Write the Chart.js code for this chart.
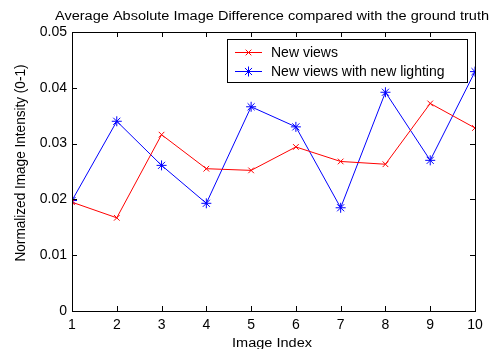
<!DOCTYPE html>
<html>
<head>
<meta charset="utf-8">
<script src="https://cdn.jsdelivr.net/npm/chart.js@4/dist/chart.umd.min.js"></script>
<style>
  html, body { margin: 0; padding: 0; background: #fff; }
  #wrap { width: 495px; height: 349px; position: relative; }
</style>
</head>
<body>
<div id="wrap"><canvas id="grafico"></canvas></div>
<script>
// dados
const indices = [1, 2, 3, 4, 5, 6, 7, 8, 9, 10];
const newViews = [0.0195, 0.0167, 0.0316, 0.0255, 0.0252, 0.0294, 0.0268, 0.0263, 0.0372, 0.0328];
const newLighting = [0.0198, 0.0340, 0.0261, 0.0193, 0.0366, 0.0330, 0.0185, 0.0392, 0.0270, 0.0429];
const yTicks = [0, 0.01, 0.02, 0.03, 0.04, 0.05];

const fonte = 'Liberation Sans, Arial, Helvetica, sans-serif';

// texto esticado para caber numa largura (e altura relativa hy)
const textoLargura = (ctx, txt, cx, cy, largura, angulo = 0, hy = 1) => {
    const w = ctx.measureText(txt).width;
    ctx.save();
    ctx.translate(cx, cy);
    ctx.rotate(angulo);
    ctx.scale(largura / w, hy);
    ctx.textAlign = 'center';
    ctx.fillText(txt, 0, 0);
    ctx.restore();
};

// moldura, ticks para dentro, titulos e legenda (estilo MATLAB)
const estiloMatlab = {
    id: 'estiloMatlab',
    afterDraw(chart) {
        const ctx = chart.ctx;
        const a = chart.chartArea;
        const xs = chart.scales.x;
        const ys = chart.scales.y;
        ctx.save();
        ctx.strokeStyle = '#000';
        ctx.lineWidth = 1;
        ctx.strokeRect(Math.round(a.left) + 0.5, Math.round(a.top) + 0.5,
            Math.round(a.right - a.left), Math.round(a.bottom - a.top));
        ctx.beginPath();
        indices.forEach(v => {
            const px = Math.round(xs.getPixelForValue(v)) + 0.5;
            ctx.moveTo(px, a.bottom); ctx.lineTo(px, a.bottom - 5);
            ctx.moveTo(px, a.top); ctx.lineTo(px, a.top + 5);
        });
        yTicks.forEach(v => {
            const py = Math.round(ys.getPixelForValue(v)) + 0.5;
            ctx.moveTo(a.left, py); ctx.lineTo(a.left + 5, py);
            ctx.moveTo(a.right, py); ctx.lineTo(a.right - 5, py);
        });
        ctx.stroke();

        ctx.fillStyle = '#000';
        ctx.textBaseline = 'alphabetic';

        // titulo
        ctx.font = '12px ' + fonte;
        textoLargura(ctx, 'Average Absolute Image Difference compared with the ground truth', 272, 20, 434);

        // titulo do eixo x
        textoLargura(ctx, 'Image Index', 272, 347, 80);

        // titulo do eixo y
        textoLargura(ctx, 'Normalized Image Intensity (0-1)', 25, 163, 197, -Math.PI / 2, 1.2);

        // resto do texto da pagina cortado no topo
        ctx.font = '16px Liberation Serif, serif';
        ctx.textAlign = 'left';
        ctx.fillText('ovements.', -2, 0);

        // legenda
        const lx = 227, ly = 39, lw = 240, lh = 43;
        ctx.fillStyle = '#fff';
        ctx.fillRect(lx, ly, lw, lh);
        ctx.strokeStyle = '#000';
        ctx.strokeRect(lx + 0.5, ly + 0.5, lw, lh);
        chart.data.datasets.forEach((ds, i) => {
            const y = ly + 13 + i * 19;
            ctx.strokeStyle = ds.borderColor;
            ctx.beginPath();
            ctx.moveTo(235, y + 0.5); ctx.lineTo(262, y + 0.5);
            ctx.stroke();
            Chart.helpers.drawPoint(ctx, {
                pointStyle: ds.pointStyle, radius: ds.pointRadius, borderWidth: 1, rotation: 0
            }, 248.5, y + 0.5);
            ctx.fillStyle = '#000';
            ctx.font = '14px ' + fonte;
            ctx.textAlign = 'left';
            ctx.textBaseline = 'middle';
            ctx.fillText(ds.label, 271, y + 1);
        });
        ctx.restore();
    }
};

const ctx = document.getElementById('grafico').getContext('2d');
const grafico = new Chart(ctx, {
    type: 'line',
    data: {
        labels: indices,
        datasets: [{
            label: 'New views',
            data: newViews,
            borderColor: '#ff0000',
            backgroundColor: '#ff0000',
            borderWidth: 1,
            pointStyle: 'crossRot',
            pointRadius: 4,
            pointBorderWidth: 1,
            tension: 0
        }, {
            label: 'New views with new lighting',
            data: newLighting,
            borderColor: '#0000ff',
            backgroundColor: '#0000ff',
            borderWidth: 1,
            pointStyle: 'star',
            pointRadius: 5,
            pointBorderWidth: 1,
            tension: 0
        }]
    },
    options: {
        responsive: true,
        maintainAspectRatio: false,
        animation: false,
        layout: { padding: { top: 32, right: 20, left: 0, bottom: 0 } },
        plugins: {
            legend: { display: false },
            title: { display: false },
            tooltip: { enabled: false }
        },
        scales: {
            x: {
                type: 'linear',
                min: 1,
                max: 10,
                afterBuildTicks: s => { s.ticks = indices.map(v => ({ value: v })); },
                afterFit: s => { s.height = 38; },
                grid: { display: false, drawTicks: false },
                border: { display: false },
                ticks: { color: '#000', font: { family: fonte, size: 14 }, padding: 6, maxRotation: 0 }
            },
            y: {
                min: 0,
                max: 0.05,
                afterBuildTicks: s => { s.ticks = yTicks.map(v => ({ value: v })); },
                afterFit: s => { s.width = 72; },
                grid: { display: false, drawTicks: false },
                border: { display: false },
                ticks: {
                    color: '#000', font: { family: fonte, size: 14 }, padding: 5,
                    callback: v => String(Math.round(v * 100) / 100)
                }
            }
        }
    },
    plugins: [estiloMatlab]
});
</script>
</body>
</html>
